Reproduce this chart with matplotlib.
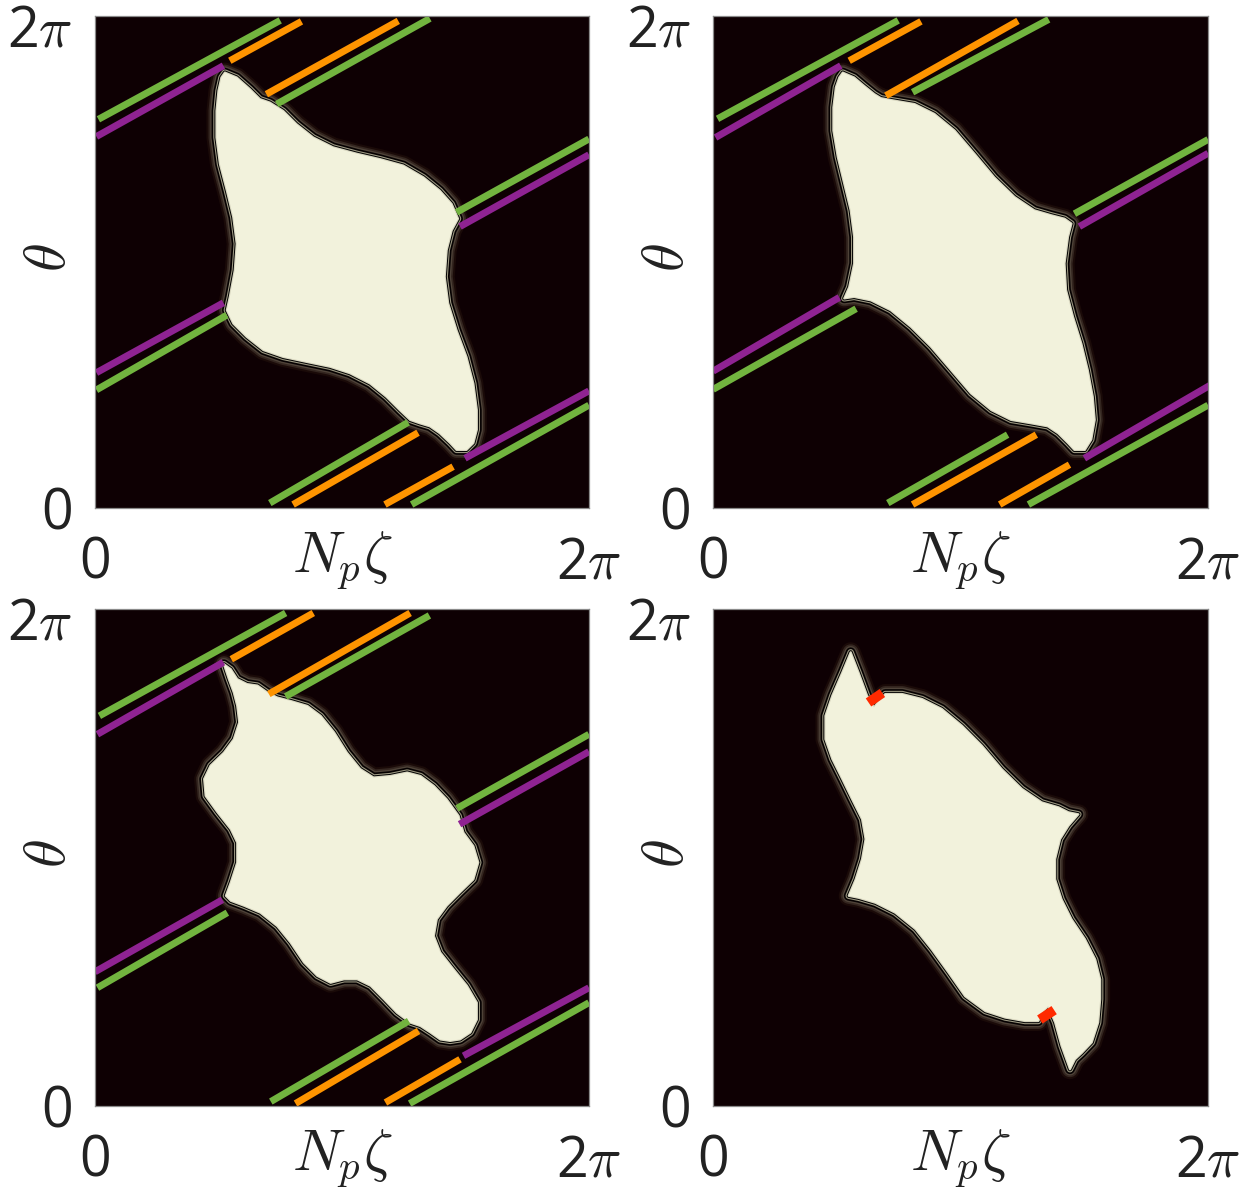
import numpy as np
import matplotlib
matplotlib.use("Agg")
import matplotlib.pyplot as plt
import matplotlib.patheffects as pe
import matplotlib.transforms as mtrans
from matplotlib.patches import Polygon

TWO_PI = 2 * np.pi

# everything below is in units of one period (multiplied by 2*pi when drawn)
# segments: x0, y0, x1, y1
tl_green = [(0.007, 0.790, 0.375, 0.991), (0.368, 0.821, 0.678, 0.995), (0.732, 0.601, 1.000, 0.750),
            (0.003, 0.240, 0.267, 0.392), (0.354, 0.010, 0.634, 0.174), (0.641, 0.007, 1.000, 0.209)]
tl_purple = [(0.003, 0.755, 0.260, 0.899), (0.739, 0.572, 1.000, 0.718),
             (0.003, 0.275, 0.260, 0.417), (0.749, 0.101, 1.000, 0.238)]
tl_orange = [(0.273, 0.909, 0.418, 0.989), (0.347, 0.841, 0.614, 0.990),
             (0.401, 0.007, 0.654, 0.153), (0.587, 0.007, 0.725, 0.084)]

tr_green = [(0.009, 0.791, 0.374, 0.991), (0.403, 0.845, 0.678, 0.993), (0.730, 0.598, 1.000, 0.749),
            (0.000, 0.241, 0.289, 0.405), (0.353, 0.010, 0.595, 0.149), (0.637, 0.007, 1.000, 0.209)]
tr_purple = [(0.005, 0.753, 0.258, 0.899), (0.740, 0.572, 1.000, 0.721),
             (0.000, 0.278, 0.255, 0.428), (0.750, 0.101, 1.005, 0.250)]
tr_orange = [(0.275, 0.909, 0.420, 0.989), (0.349, 0.838, 0.616, 0.990),
             (0.403, 0.007, 0.653, 0.149), (0.579, 0.007, 0.720, 0.088)]

bl_green = [(0.009, 0.785, 0.386, 0.992), (0.386, 0.824, 0.677, 0.987), (0.733, 0.599, 1.000, 0.748),
            (0.005, 0.238, 0.268, 0.389), (0.356, 0.009, 0.635, 0.171), (0.637, 0.005, 1.000, 0.208)]
bl_purple = [(0.005, 0.748, 0.260, 0.893), (0.738, 0.567, 1.000, 0.713),
             (0.000, 0.270, 0.258, 0.415), (0.746, 0.101, 1.000, 0.238)]
bl_orange = [(0.276, 0.899, 0.442, 0.992), (0.352, 0.829, 0.638, 0.992),
             (0.406, 0.005, 0.655, 0.151), (0.588, 0.007, 0.739, 0.094)]

br_red = [(0.314, 0.812, 0.342, 0.831), (0.660, 0.174, 0.689, 0.193)]

# outlines of the bright region
tl_blob = [(0.263, 0.885), (0.287, 0.875), (0.314, 0.851), (0.334, 0.831), (0.354, 0.824), (0.381, 0.807),
           (0.408, 0.780), (0.442, 0.753), (0.482, 0.733), (0.530, 0.720), (0.577, 0.709), (0.624, 0.696),
           (0.665, 0.672), (0.698, 0.645), (0.722, 0.618), (0.735, 0.588), (0.722, 0.564), (0.712, 0.524),
           (0.708, 0.470), (0.715, 0.416), (0.732, 0.361), (0.752, 0.307), (0.766, 0.253), (0.773, 0.199),
           (0.773, 0.159), (0.766, 0.132), (0.752, 0.118), (0.732, 0.118), (0.719, 0.132), (0.698, 0.152),
           (0.678, 0.166), (0.658, 0.172), (0.638, 0.179), (0.617, 0.199), (0.590, 0.226), (0.557, 0.253),
           (0.516, 0.274), (0.476, 0.287), (0.428, 0.297), (0.381, 0.307), (0.341, 0.321), (0.307, 0.348),
           (0.280, 0.375), (0.267, 0.402), (0.273, 0.429), (0.283, 0.483), (0.287, 0.537), (0.280, 0.591),
           (0.267, 0.645), (0.253, 0.699), (0.246, 0.753), (0.246, 0.807), (0.250, 0.848), (0.256, 0.875)]

tr_blob = [(0.262, 0.885), (0.285, 0.875), (0.305, 0.858), (0.326, 0.841), (0.339, 0.833), (0.366, 0.828),
           (0.407, 0.821), (0.447, 0.801), (0.488, 0.767), (0.528, 0.720), (0.568, 0.672), (0.609, 0.632),
           (0.649, 0.605), (0.683, 0.595), (0.710, 0.588), (0.724, 0.578), (0.717, 0.551), (0.710, 0.497),
           (0.713, 0.443), (0.727, 0.389), (0.744, 0.334), (0.757, 0.280), (0.767, 0.226), (0.771, 0.179),
           (0.764, 0.139), (0.751, 0.118), (0.730, 0.118), (0.717, 0.132), (0.697, 0.152), (0.676, 0.166),
           (0.643, 0.172), (0.602, 0.179), (0.562, 0.199), (0.521, 0.233), (0.481, 0.280), (0.440, 0.328),
           (0.400, 0.368), (0.359, 0.402), (0.319, 0.422), (0.285, 0.429), (0.265, 0.426), (0.275, 0.449),
           (0.285, 0.497), (0.285, 0.551), (0.278, 0.605), (0.265, 0.659), (0.252, 0.713), (0.243, 0.767),
           (0.243, 0.814), (0.248, 0.855), (0.255, 0.875)]

bl_blob = [(0.261, 0.889), (0.275, 0.879), (0.288, 0.859), (0.308, 0.849), (0.329, 0.846), (0.349, 0.832),
           (0.369, 0.822), (0.396, 0.815), (0.430, 0.805), (0.457, 0.785), (0.484, 0.752), (0.510, 0.711),
           (0.537, 0.678), (0.564, 0.661), (0.598, 0.664), (0.632, 0.671), (0.659, 0.664), (0.686, 0.644),
           (0.712, 0.617), (0.736, 0.584), (0.746, 0.550), (0.766, 0.523), (0.776, 0.490), (0.766, 0.456),
           (0.739, 0.430), (0.712, 0.403), (0.692, 0.376), (0.686, 0.342), (0.699, 0.309), (0.726, 0.275),
           (0.753, 0.242), (0.773, 0.208), (0.773, 0.174), (0.760, 0.148), (0.739, 0.134), (0.719, 0.131),
           (0.699, 0.134), (0.679, 0.148), (0.659, 0.161), (0.638, 0.168), (0.611, 0.188), (0.585, 0.215),
           (0.558, 0.242), (0.531, 0.255), (0.504, 0.255), (0.477, 0.248), (0.450, 0.262), (0.423, 0.289),
           (0.396, 0.329), (0.369, 0.362), (0.335, 0.389), (0.302, 0.403), (0.275, 0.413), (0.265, 0.423),
           (0.275, 0.450), (0.288, 0.490), (0.288, 0.530), (0.275, 0.557), (0.248, 0.591), (0.224, 0.624),
           (0.221, 0.658), (0.234, 0.685), (0.261, 0.711), (0.281, 0.738), (0.292, 0.772), (0.288, 0.805),
           (0.281, 0.832), (0.271, 0.859)]

br_blob = [(0.278, 0.913), (0.294, 0.872), (0.311, 0.826), (0.325, 0.802), (0.335, 0.815), (0.348, 0.829),
           (0.382, 0.829), (0.422, 0.819), (0.462, 0.799), (0.503, 0.765), (0.543, 0.725), (0.583, 0.678),
           (0.624, 0.638), (0.664, 0.611), (0.698, 0.601), (0.718, 0.591), (0.738, 0.587), (0.718, 0.564),
           (0.701, 0.537), (0.691, 0.497), (0.691, 0.456), (0.704, 0.416), (0.724, 0.376), (0.751, 0.336),
           (0.772, 0.295), (0.782, 0.255), (0.782, 0.215), (0.778, 0.168), (0.765, 0.128), (0.745, 0.107),
           (0.731, 0.094), (0.721, 0.074), (0.704, 0.121), (0.691, 0.168), (0.677, 0.201), (0.667, 0.191),
           (0.657, 0.171), (0.630, 0.171), (0.590, 0.178), (0.550, 0.191), (0.509, 0.221), (0.476, 0.268),
           (0.442, 0.315), (0.409, 0.356), (0.368, 0.389), (0.328, 0.409), (0.294, 0.419), (0.274, 0.423),
           (0.288, 0.456), (0.301, 0.497), (0.308, 0.537), (0.301, 0.577), (0.281, 0.617), (0.261, 0.658),
           (0.241, 0.698), (0.227, 0.738), (0.227, 0.785), (0.241, 0.826), (0.261, 0.872)]

tick_labels = ["0", r"2$\pi$"]

BG = "#0e0003"
CREAM = "#f2f2dc"
GREEN = "#72b43f"
PURPLE = "#8f2392"
ORANGE = "#ff9400"
RED = "#ff2a00"

# faint contour rings just outside the bright region
HALO = [pe.Stroke(linewidth=14.4, foreground="#1a0a08"),
        pe.Stroke(linewidth=11.5, foreground="#33251f"),
        pe.Stroke(linewidth=9.0, foreground="#4e4238"),
        pe.Stroke(linewidth=7.0, foreground="#050000"),
        pe.Stroke(linewidth=4.6, foreground="#9c9882"),
        pe.Stroke(linewidth=3.0, foreground="#000000"),
        pe.Stroke(linewidth=1.6, foreground="#d8d6bf"),
        pe.Normal()]


def draw_segments(ax, segs, color, lw):
  for x0, y0, x1, y1 in segs:
    ax.plot([x0 * TWO_PI, x1 * TWO_PI], [y0 * TWO_PI, y1 * TWO_PI],
            color=color, lw=lw, solid_capstyle="butt")


def draw_panel(fig, ax, blob, green, purple, orange, red):
  ax.set_facecolor(BG)
  poly = Polygon(np.array(blob) * TWO_PI, closed=True, facecolor=CREAM,
                 edgecolor="none", lw=0, joinstyle="round")
  poly.set_path_effects(HALO)
  ax.add_patch(poly)
  draw_segments(ax, green, GREEN, 5.0)
  draw_segments(ax, purple, PURPLE, 5.0)
  draw_segments(ax, orange, ORANGE, 5.0)
  draw_segments(ax, red, RED, 7.0)

  ax.set_xlim(0, TWO_PI)
  ax.set_ylim(0, TWO_PI)
  ax.set_xticks([0, TWO_PI])
  ax.set_yticks([0, TWO_PI])
  ax.set_xticklabels(tick_labels)
  ax.set_yticklabels(tick_labels)
  ax.tick_params(direction="in", length=4, width=0.6, color="#888888",
                 top=True, right=True, labelsize=40, labelcolor="#222222")
  ax.tick_params(axis="x", pad=20)
  ax.tick_params(axis="y", pad=16)
  # top label sits a little lower than the tick, like the original
  top = ax.get_yticklabels()[1]
  top.set_transform(top.get_transform() + mtrans.ScaledTranslation(0, -9 / 100, fig.dpi_scale_trans))
  for sp in ax.spines.values():
    sp.set_color("#8a8a8a")
    sp.set_linewidth(0.9)

  ax.set_xlabel(r"$N_p\zeta$", fontsize=42, va="center", color="#222222")
  ax.xaxis.set_label_coords(0.5, -0.108)
  ax.set_ylabel(r"$\theta$", fontsize=42, va="center", ha="center", color="#222222")
  ax.yaxis.set_label_coords(-0.092, 0.508)


def main():
  plt.rcParams["font.family"] = ["Open Sans", "DejaVu Sans"]
  plt.rcParams["mathtext.fontset"] = "cm"

  fig = plt.figure(figsize=(12.51, 11.93), dpi=100)
  ax_tl = fig.add_axes([0.0759, 0.5742, 0.3949, 0.4124])
  ax_tr = fig.add_axes([0.5700, 0.5742, 0.3957, 0.4124])
  ax_bl = fig.add_axes([0.0759, 0.0729, 0.3949, 0.4166])
  ax_br = fig.add_axes([0.5700, 0.0729, 0.3957, 0.4166])

  draw_panel(fig, ax_tl, tl_blob, tl_green, tl_purple, tl_orange, [])
  draw_panel(fig, ax_tr, tr_blob, tr_green, tr_purple, tr_orange, [])
  draw_panel(fig, ax_bl, bl_blob, bl_green, bl_purple, bl_orange, [])
  draw_panel(fig, ax_br, br_blob, [], [], [], br_red)

  fig.savefig("out.png", dpi=100)


if __name__ == "__main__":
  main()
